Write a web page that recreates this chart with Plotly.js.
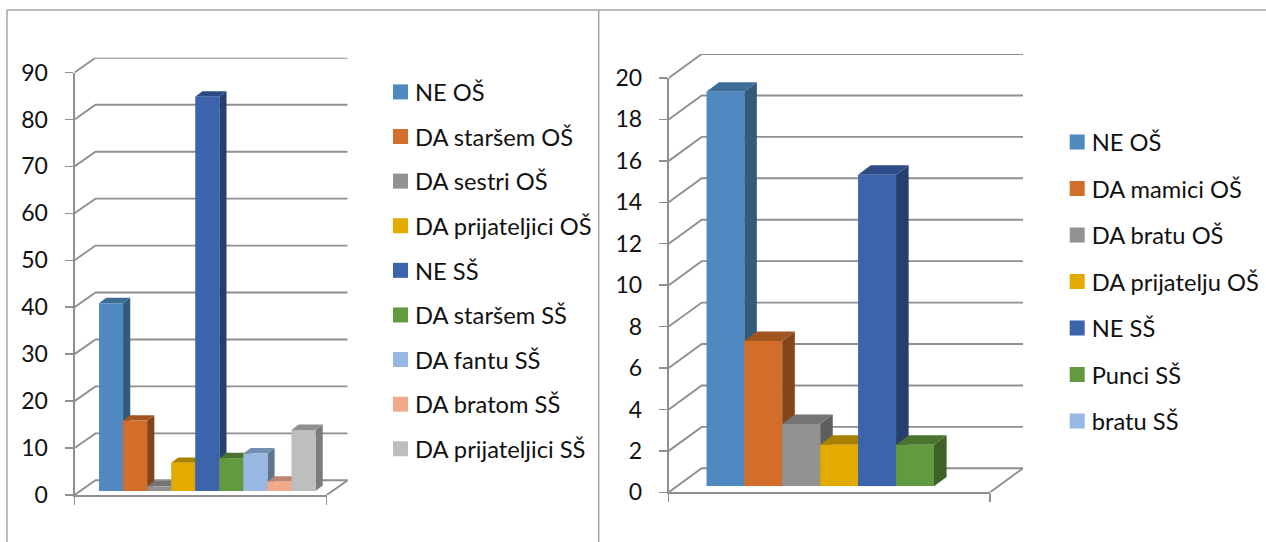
<!DOCTYPE html>
<html>
<head>
<meta charset="utf-8">
<script src="https://cdn.plot.ly/plotly-3.0.1.min.js"></script>
<style>html,body{margin:0;padding:0;background:#fff}#chart{width:1266px;height:542px}</style>
</head>
<body>
<div id="chart"></div>
<script>
// ---- data ----
var leftNames = ['NE OŠ','DA staršem OŠ','DA sestri OŠ','DA prijateljici OŠ','NE SŠ','DA staršem SŠ','DA fantu SŠ','DA bratom SŠ','DA prijateljici SŠ'];
var leftValues = [40,15,1,6,84,7,8,2,13];
var leftTicks = [0,10,20,30,40,50,60,70,80,90];
var rightNames = ['NE OŠ','DA mamici OŠ','DA bratu OŠ','DA prijatelju OŠ','NE SŠ','Punci SŠ','bratu SŠ'];
var rightValues = [19,7,3,2,15,2,null];
var rightTicks = [0,2,4,6,8,10,12,14,16,18,20];

var leftFront = ['#5089BF','#D26D2A','#929292','#E3AB00','#3B64AD','#629A3F','#97B8E1','#F2A88A','#BEBEBE'];
var leftTop   = ['#3E6D97','#A2551F','#747474','#AA8000','#2D4C85','#49732F','#7390B4','#BC8670','#909090'];
var leftSide  = ['#325A7B','#82441A','#5E5E5E','#8A6800','#263F6C','#3D6127','#5F748E','#9A6B58','#7C7C7C'];
var rightFront = leftFront.slice(0,6).concat(['#97B8E1']);
var rightTop   = leftTop.slice(0,6).concat(['#7390B4']);
var rightSide  = leftSide.slice(0,6).concat(['#5F748E']);

var FONT = 'Lato, Carlito, Calibri, sans-serif';
var GRID = '#8f8f8f';
var W = 1266, H = 542;
function px(x){return x/W;}
function py(y){return 1-y/H;}

var data = [];
var layout = {
  width:W, height:H, margin:{l:0,r:0,t:0,b:0}, paper_bgcolor:'#fff', plot_bgcolor:'rgba(0,0,0,0)',
  showlegend:true, hovermode:false,
  font:{family:FONT,color:'#111',size:23},
  shapes:[
    {type:'line',xref:'paper',yref:'paper',x0:px(7),x1:px(7),y0:py(10),y1:py(542),line:{color:'#a6a6a6',width:1.5}},
    {type:'line',xref:'paper',yref:'paper',x0:px(7),x1:px(1266),y0:py(10),y1:py(10),line:{color:'#a6a6a6',width:1.5}},
    {type:'line',xref:'paper',yref:'paper',x0:px(598.7),x1:px(598.7),y0:py(10),y1:py(542),line:{color:'#a6a6a6',width:1.5}}
  ]
};

function axisName(prefix,n){return prefix+(n===1?'':n);}
function hiddenAxes(n,xd,yd,xr,yr){
  layout[axisName('xaxis',n)] = {domain:xd,range:xr,visible:false,fixedrange:true,anchor:axisName('y',n)};
  layout[axisName('yaxis',n)] = {domain:yd,range:yr,visible:false,fixedrange:true,anchor:axisName('x',n)};
}

function panel(opt){
  var a = opt.axisBase;
  var xg = axisName('x',a), yg = axisName('y',a);     // walls, reaching to the back plane
  var xa = axisName('x',a+1), ya = axisName('y',a+1); // visible axes on the front plane
  var xb = axisName('x',a+2), yb = axisName('y',a+2); // bar tops and sides
  var xc = axisName('x',a+3), yc = axisName('y',a+3); // bar fronts
  var ymax = opt.ticks[opt.ticks.length-1];
  var wx = opt.wallDx/(opt.fx1-opt.fx0), wy = opt.wallDy/((opt.fy0-opt.fyTop)/ymax);

  hiddenAxes(a,[px(opt.fx0),px(opt.fx1+opt.wallDx)],[py(opt.fy0),py(opt.fyTop-opt.wallDy)],[0,1+wx],[0,ymax+wy]);
  var gx=[],gy=[];
  opt.ticks.forEach(function(t){ gx.push(0,wx,1+wx,null); gy.push(t,t+wy,t+wy,null); });
  gx.push(1,1+wx); gy.push(0,wy);
  data.push({type:'scatter',mode:'lines',x:gx,y:gy,xaxis:xg,yaxis:yg,showlegend:false,
    hoverinfo:'skip',line:{color:GRID,width:1.9}});

  layout[axisName('xaxis',a+1)] = {domain:[px(opt.fx0),px(opt.fx1)],range:[0,1],anchor:ya,fixedrange:true,
    showgrid:false,zeroline:false,showline:true,linecolor:GRID,linewidth:2,
    ticks:'outside',ticklen:8,tickwidth:1.5,tickcolor:GRID,tickvals:[0,1],showticklabels:false};
  layout[axisName('yaxis',a+1)] = {domain:[py(opt.fy0),py(opt.fyTop)],range:[0,ymax],anchor:xa,fixedrange:true,
    showgrid:false,zeroline:false,showline:true,linecolor:GRID,linewidth:2,
    ticks:'outside',ticklen:8,tickwidth:1.5,tickcolor:GRID,tickvals:opt.ticks,ticktext:opt.ticks.map(String),
    ticklabelstandoff:opt.standoff,tickfont:{family:FONT,size:opt.tickSize,color:'#111'}};
  // an axis pair is only drawn when a trace refers to it
  data.push({type:'scatter',mode:'lines',x:[null],y:[null],xaxis:xa,yaxis:ya,showlegend:false,hoverinfo:'skip'});

  var slotW = opt.barW, nSlots = opt.names.length+1;
  hiddenAxes(a+2,[px(opt.bx0),px(opt.bx0+slotW*nSlots)],[py(opt.by0),py(opt.by0-opt.unit*ymax)],[0,nSlots],[0,ymax]);
  hiddenAxes(a+3,[px(opt.bx0),px(opt.bx0+slotW*nSlots)],[py(opt.by0),py(opt.by0-opt.unit*ymax)],[0,nSlots],[0,ymax]);
  var dx = opt.barDx/slotW, dy = opt.barDy/opt.unit;
  opt.values.forEach(function(v,i){
    if(v===null) return;
    data.push({type:'scatter',mode:'lines',xaxis:xb,yaxis:yb,fill:'toself',fillcolor:opt.side[i],showlegend:false,hoverinfo:'skip',
      line:{width:0},x:[i+1,i+1,i+1+dx,i+1+dx,i+1],y:[0,v,v+dy,dy,0]});
    data.push({type:'scatter',mode:'lines',xaxis:xb,yaxis:yb,fill:'toself',fillcolor:opt.top[i],showlegend:false,hoverinfo:'skip',
      line:{width:0},x:[i,i+1,i+1+dx,i+dx,i],y:[v,v,v+dy,v+dy,v]});
  });
  opt.values.forEach(function(v,i){
    data.push({type:'bar',xaxis:xc,yaxis:yc,x:[i+0.5],y:[v],width:[1],name:opt.names[i],showlegend:false,
      legendgroup:opt.legend+i,marker:{color:opt.front[i],line:{width:0}},hoverinfo:'skip'});
  });
  opt.names.forEach(function(n,i){
    data.push({type:'scatter',mode:'markers',xaxis:xc,yaxis:yc,x:[null],y:[null],name:n,legend:opt.legend,
      legendgroup:opt.legend+i,showlegend:true,hoverinfo:'skip',marker:{symbol:'square',size:15,color:opt.front[i]}});
  });
  layout[opt.legend] = {x:px(opt.legX),y:py(opt.legY),xanchor:'left',yanchor:'top',bgcolor:'rgba(0,0,0,0)',
    borderwidth:0,traceorder:'grouped',tracegroupgap:opt.legGap,itemclick:false,itemdoubleclick:false,
    font:{family:FONT,size:opt.legSize,color:'#111'}};
}

panel({axisBase:1,names:leftNames,values:leftValues,ticks:leftTicks,front:leftFront,top:leftTop,side:leftSide,
  fx0:74.5,fx1:326.7,fy0:495,fyTop:72.5,wallDx:21,wallDy:14.7,
  bx0:99,by0:491,barW:24.06,unit:4.694,barDx:7.2,barDy:5.4,
  standoff:12,tickSize:23,legend:'legend',legX:375,legY:70,legGap:10.8,legSize:23.7});
panel({axisBase:5,names:rightNames,values:rightValues,ticks:rightTicks,front:rightFront,top:rightTop,side:rightSide,
  fx0:668.7,fx1:990,fy0:492.3,fyTop:78,wallDx:33,wallDy:24,
  bx0:706.3,by0:486.3,barW:37.95,unit:20.77,barDx:12.6,barDy:9.4,
  standoff:12,tickSize:23,legend:'legend2',legX:1051.7,legY:120,legGap:12.7,legSize:23.7});

Plotly.newPlot('chart',data,layout,{displayModeBar:false,staticPlot:true}).then(function(){
  // the reference keeps its colour keys closer to their labels
  document.querySelectorAll('.legendsymbols').forEach(function(g){ g.setAttribute('transform','translate(5.5,0)'); });
});
</script>
</body>
</html>
